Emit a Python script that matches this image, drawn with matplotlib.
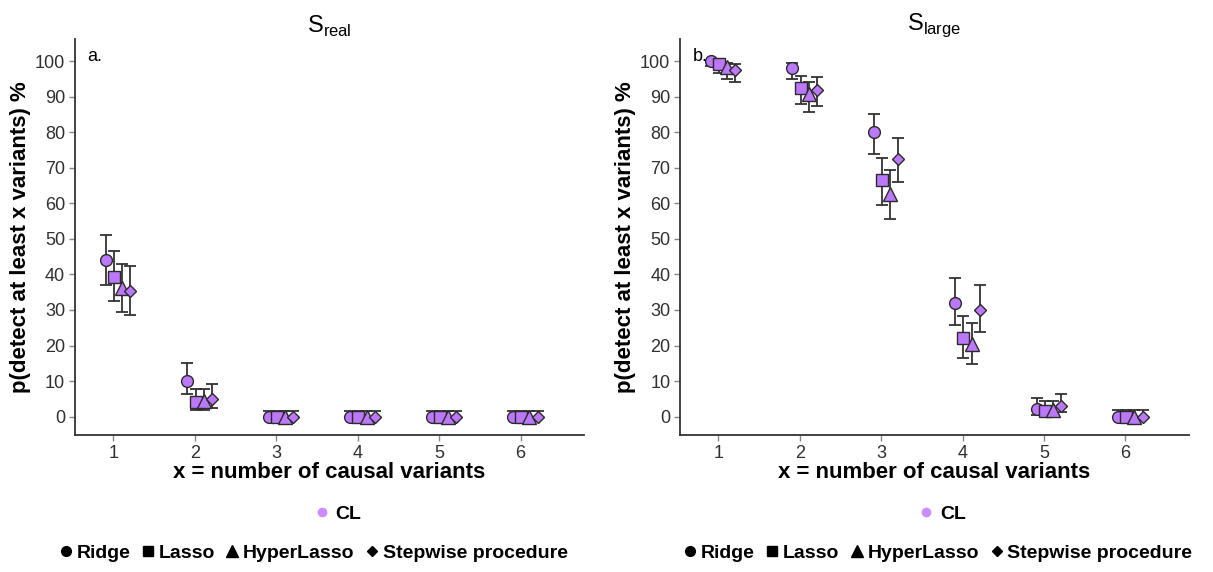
import matplotlib
matplotlib.use("Agg")
import matplotlib.pyplot as plt
from matplotlib.lines import Line2D
import numpy as np

plt.rcParams["font.family"] = ["Liberation Sans", "DejaVu Sans"]
plt.rcParams["mathtext.fontset"] = "custom"
plt.rcParams["mathtext.rm"] = "Liberation Sans"

x_vals = [1, 2, 3, 4, 5, 6]
methods = ["Ridge", "Lasso", "HyperLasso", "Stepwise procedure"]
markers = ["o", "s", "^", "D"]
marker_sizes = [8.5, 8, 9.5, 6]
offsets = [-0.09, 0.01, 0.11, 0.21]

# S_real: mean, lower, upper per method
real_mean = {
    "Ridge":              [44.0, 10.1, 0, 0, 0, 0],
    "Lasso":              [39.3, 4.1, 0, 0, 0, 0],
    "HyperLasso":         [36.2, 4.4, 0, 0, 0, 0],
    "Stepwise procedure": [35.4, 5.0, 0, 0, 0, 0],
}
real_low = {
    "Ridge":              [37.0, 6.4, 0, 0, 0, 0],
    "Lasso":              [32.6, 1.9, 0, 0, 0, 0],
    "HyperLasso":         [29.3, 1.9, 0, 0, 0, 0],
    "Stepwise procedure": [28.6, 2.4, 0, 0, 0, 0],
}
real_high = {
    "Ridge":              [51.2, 15.2, 1.5, 1.5, 1.5, 1.5],
    "Lasso":              [46.6, 7.8, 1.5, 1.5, 1.5, 1.5],
    "HyperLasso":         [43.0, 7.8, 1.5, 1.5, 1.5, 1.5],
    "Stepwise procedure": [42.4, 9.1, 1.5, 1.5, 1.5, 1.5],
}

# S_large
large_mean = {
    "Ridge":              [100.0, 98.1, 80.2, 32.0, 2.2, 0],
    "Lasso":              [99.2, 92.5, 66.6, 22.0, 1.5, 0],
    "HyperLasso":         [98.4, 90.7, 62.7, 20.4, 1.8, 0],
    "Stepwise procedure": [97.5, 92.0, 72.5, 30.0, 3.1, 0],
}
large_low = {
    "Ridge":              [98.6, 95.1, 73.9, 25.8, 0.5, 0],
    "Lasso":              [96.6, 87.9, 59.6, 16.4, 0.2, 0],
    "HyperLasso":         [95.0, 85.7, 55.5, 14.8, 0.2, 0],
    "Stepwise procedure": [94.3, 87.4, 65.9, 23.7, 1.2, 0],
}
large_high = {
    "Ridge":              [100.0, 99.5, 85.3, 38.9, 5.1, 1.8],
    "Lasso":              [100.0, 95.8, 72.9, 28.4, 4.3, 1.8],
    "HyperLasso":         [99.5, 94.2, 69.4, 26.2, 4.3, 1.8],
    "Stepwise procedure": [99.2, 95.5, 78.5, 37.0, 6.4, 1.8],
}

fill = "#BC78FA"
edge = "#2a2a2a"
fig = plt.figure(figsize=(12.13, 5.72), dpi=100)
ax1 = fig.add_axes([0.0618, 0.2395, 0.4197, 0.6923])
ax2 = fig.add_axes([0.5606, 0.2395, 0.4196, 0.6923])


def draw(ax, mean, low, high, title, tag):
    for m, mk, ms, off in zip(methods, markers, marker_sizes, offsets):
        xs = np.array(x_vals) + off
        y = np.array(mean[m])
        lo = y - np.array(low[m])
        hi = np.array(high[m]) - y
        ax.errorbar(xs, y, yerr=[lo, hi], fmt="none", ecolor="#333333",
                    elinewidth=1.3, capsize=4, capthick=1.3, zorder=2)
        ax.plot(xs, y, linestyle="none", marker=mk, markersize=ms,
                markerfacecolor=fill, markeredgecolor=edge, markeredgewidth=1.0, zorder=3)
    ax.set_xlim(0.53, 6.78)
    ax.set_ylim(-5.2, 106.3)
    ax.set_xticks(x_vals)
    ax.set_yticks(np.arange(0, 101, 10))
    ax.tick_params(axis="both", direction="out", length=4, width=1, color="#888888",
                   labelsize=13, labelcolor="#303030", pad=3)
    for s in ["top", "right"]:
        ax.spines[s].set_visible(False)
    for s in ["left", "bottom"]:
        ax.spines[s].set_color("#333333")
        ax.spines[s].set_linewidth(1.3)
    ax.set_xlabel("x = number of causal variants", fontsize=16, fontweight="bold", labelpad=0)
    ax.set_ylabel("p(detect at least x variants) %", fontsize=16, fontweight="bold", labelpad=3)
    ax.set_title(title, fontsize=17, pad=4)
    ax.text(0.025, 0.955, tag, transform=ax.transAxes, fontsize=13, va="center", ha="left")


draw(ax1, real_mean, real_low, real_high, r"S$_{\mathrm{real}}$", "a.")
draw(ax2, large_mean, large_low, large_high, r"S$_{\mathrm{large}}$", "b.")

# legends below each panel
for cx_cl, cx_sh in [(0.277, 0.257), (0.775, 0.772)]:
    cl = [Line2D([], [], linestyle="none", marker="o", markersize=7,
                 markerfacecolor="#CC8CFF", markeredgecolor="none")]
    fig.legend(cl, ["CL"], loc="center", bbox_to_anchor=(cx_cl, 1 - 514 / 572),
               frameon=False, prop={"weight": "bold", "size": 14},
               handletextpad=0.1, handlelength=1.2)
    shapes = [Line2D([], [], linestyle="none", marker=mk, markersize=s,
                     markerfacecolor="black", markeredgecolor="black")
              for mk, s in zip(markers, [7, 7, 8, 5])]
    fig.legend(shapes, methods, loc="center", bbox_to_anchor=(cx_sh, 1 - 553 / 572),
               ncol=4, frameon=False, prop={"weight": "bold", "size": 14},
               handletextpad=0.05, handlelength=1.0, columnspacing=0.4)

fig.savefig("out.png", dpi=100)
